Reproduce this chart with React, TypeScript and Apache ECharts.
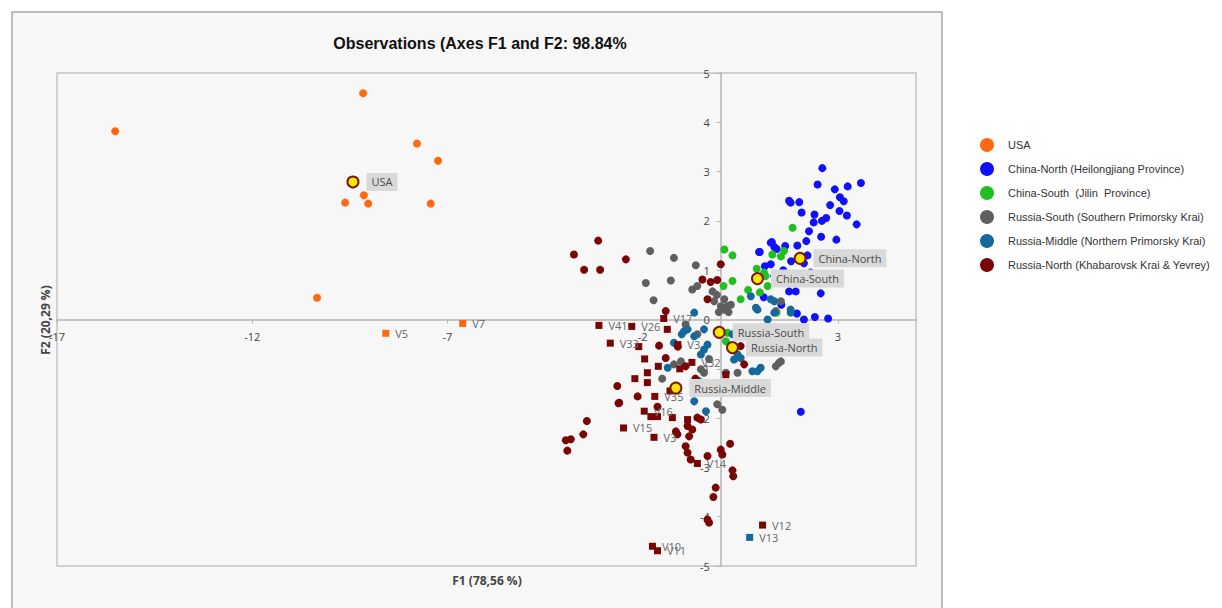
import React, { useEffect, useRef } from "react";
import * as echarts from "echarts";

const TITLE = "Observations (Axes F1 and F2: 98.84%";
const X_NAME = "F1 (78,56 %)";
const Y_NAME = "F2 (20,29 %)";
const X_MIN = -17;
const X_MAX = 5;
const X_STEP = 5;
const Y_MIN = -5;
const Y_MAX = 5;
const Y_STEP = 1;

const GROUP_NAMES = [
  "USA",
  "China-North (Heilongjiang Province)",
  "China-South  (Jilin  Province)",
  "Russia-South (Southern Primorsky Krai)",
  "Russia-Middle (Northern Primorsky Krai)",
  "Russia-North (Khabarovsk Krai & Yevrey)",
];

const USA_OBS = [
  [-15.51, 3.82], [-9.16, 4.59], [-7.78, 3.57], [-7.24, 3.22], [-9.14, 2.52],
  [-9.62, 2.37], [-9.03, 2.35], [-7.43, 2.35], [-10.34, 0.44],
];
const USA_VARS = [
  { name: "V5", value: [-8.58, -0.28] },
  { name: "V7", value: [-6.61, -0.08] },
];

const CHINA_NORTH_OBS = [
  [2.6, 3.07], [2.48, 2.74], [2.92, 2.64], [3.25, 2.7], [3.59, 2.77], [1.75, 2.41],
  [1.79, 2.37], [2.01, 2.38], [3.05, 2.48], [3.15, 2.4], [2.07, 2.17], [2.8, 2.32],
  [3.04, 2.2], [2.4, 2.13], [2.7, 2.06], [2.59, 2.0], [2.38, 1.97], [3.23, 2.11],
  [3.48, 1.93], [2.26, 1.79], [2.57, 1.68], [2.96, 1.62], [2.19, 1.59], [1.96, 1.5],
  [1.31, 1.57], [1.37, 1.47], [1.43, 1.43], [1.65, 1.49], [1.0, 1.37], [2.22, 1.3],
  [1.8, 1.18], [1.13, 1.08], [1.28, 1.12], [2.13, 1.14], [1.37, 0.88], [2.56, 0.53],
  [1.75, 0.57], [1.92, 0.57], [1.95, 0.12], [2.41, 0.05], [2.05, -1.87], [0.98, 1.37],
  [1.28, 1.56], [1.6, 1.0], [1.5, 0.75], [2.3, 0.95], [1.1, 0.45], [2.13, 0.0],
  [1.55, 0.3], [2.75, 0.02],
];

const CHINA_SOUTH_OBS = [
  [1.84, 1.86], [0.09, 1.42], [0.3, 1.3], [1.62, 1.39], [1.32, 1.32], [1.54, 1.28],
  [0.3, 0.78], [0.07, 0.68], [0.51, 0.41], [1.11, 0.95], [1.2, 0.68], [0.17, -0.27],
  [0.13, -0.44], [1.15, 0.88], [0.92, 1.03], [1.43, 0.14], [1.0, 0.55], [0.7, 0.6],
];

const RUSSIA_SOUTH_OBS = [
  [-1.81, 1.39], [-1.2, 1.25], [-0.64, 1.1], [-1.92, 0.74], [-1.28, 0.79], [-1.72, 0.39],
  [-0.73, 0.61], [-0.6, 0.68], [-0.21, 0.57], [-0.17, 0.37], [0.0, 0.27], [0.09, 0.2],
  [0.17, 0.27], [0.26, 0.3], [0.09, 0.41], [-0.1, 0.5], [0.2, 0.15], [-0.05, 0.15],
  [1.54, 0.37], [1.41, 0.17], [1.49, -0.88], [1.41, -0.95], [1.54, -0.85], [-1.02, -0.85],
  [-1.2, -0.91], [-0.09, -1.72], [0.04, -1.83], [-0.51, -1.01], [-0.43, -1.08], [-0.9, -0.1],
  [-0.6, -0.3], [0.13, -1.08], [0.43, -1.08], [-1.5, -1.2], [-0.3, -0.8],
];

const RUSSIA_MIDDLE_OBS = [
  [-0.68, 0.14], [-0.85, -0.2], [-0.94, -0.24], [-0.68, -0.34], [-0.43, -0.2], [-0.43, -0.61],
  [-0.51, -0.71], [0.43, -0.71], [0.51, -0.78], [0.34, -0.81], [1.02, -0.98], [0.94, -1.05],
  [-1.36, -0.98], [-1.2, -0.47], [-0.68, -1.66], [1.28, 0.41], [0.94, 0.2], [1.2, 0.0],
  [1.79, 0.2], [1.37, 0.37], [0.77, 0.47], [0.9, 0.24], [1.79, 0.14], [1.37, 0.14],
  [-0.56, -1.25], [-0.38, -1.86], [-0.34, -0.51], [0.81, -1.05], [-1.0, -0.3], [0.3, -0.3],
];
const RUSSIA_MIDDLE_VARS = [{ name: "V13", value: [0.74, -4.42] }];

const RUSSIA_NORTH_OBS = [
  [-3.14, 1.6], [-3.76, 1.32], [-2.43, 1.22], [-3.5, 1.01], [-3.09, 1.01], [0.0, 1.12],
  [-0.47, 0.81], [-0.26, 0.76], [-0.09, 0.8], [-0.34, 0.41], [-1.41, 0.17], [-1.58, -0.53],
  [-2.62, -1.7], [-3.43, -2.06], [-3.52, -2.33], [-3.97, -2.45], [-3.84, -2.43], [-3.93, -2.66],
  [-1.62, -1.77], [-1.15, -2.27], [-1.11, -2.33], [-0.9, -2.57], [-0.85, -2.7], [-0.77, -2.84],
  [-0.85, -2.16], [-0.73, -2.23], [-0.81, -2.37], [0.0, -2.64], [0.04, -2.74], [0.24, -2.52],
  [0.3, -3.06], [0.32, -3.18], [-0.13, -3.41], [-0.19, -3.6], [-0.34, -4.06], [-0.3, -4.12],
  [-0.6, -1.99], [-0.51, -2.03], [-1.41, -0.78], [-2.65, -1.35], [-2.13, -1.56], [-2.6, -1.69],
  [0.51, -0.54], [0.6, -0.91], [-1.1, -0.55], [-0.9, -0.95], [-0.65, -1.2], [-0.34, -2.77],
];
const RUSSIA_NORTH_VARS = [
  { name: "V41", value: [-3.12, -0.12] },
  { name: "V33", value: [-2.83, -0.48] },
  { name: "V26", value: [-2.28, -0.14] },
  { name: "V17", value: [-1.46, 0.02] },
  { name: "V3", value: [-1.1, -0.51] },
  { name: "V32", value: [-0.74, -0.87] },
  { name: "V35", value: [-1.69, -1.56] },
  { name: "V16", value: [-1.96, -1.86] },
  { name: "V15", value: [-2.49, -2.2] },
  { name: "V3", value: [-1.71, -2.39] },
  { name: "V14", value: [-0.6, -2.92] },
  { name: "V12", value: [1.07, -4.17] },
  { name: "V10", value: [-1.75, -4.6] },
  { name: "V11", value: [-1.62, -4.69] },
  { name: "", value: [-1.37, -0.2] },
  { name: "", value: [0.13, -1.12] },
  { name: "", value: [-1.79, -1.97] },
  { name: "", value: [-1.62, -1.97] },
  { name: "", value: [-1.24, -1.99] },
  { name: "", value: [-0.85, -2.03] },
  { name: "", value: [-1.88, -1.08] },
  { name: "", value: [-1.88, -1.28] },
  { name: "", value: [-2.1, -0.55] },
  { name: "", value: [-1.95, -0.8] },
  { name: "", value: [-1.6, -0.95] },
  { name: "", value: [-1.05, -1.0] },
  { name: "", value: [-2.2, -1.2] },
  { name: "", value: [-1.3, -1.45] },
];

const CENTROIDS = [
  { name: "USA", value: [-9.42, 2.79] },
  { name: "China-North", value: [2.03, 1.24] },
  { name: "China-South", value: [0.94, 0.83] },
  { name: "Russia-South", value: [-0.04, -0.26] },
  { name: "Russia-North", value: [0.3, -0.57] },
  { name: "Russia-Middle", value: [-1.15, -1.39] },
];

const GROUP_OBS = [USA_OBS, CHINA_NORTH_OBS, CHINA_SOUTH_OBS, RUSSIA_SOUTH_OBS, RUSSIA_MIDDLE_OBS, RUSSIA_NORTH_OBS];
const GROUP_VARS = [USA_VARS, [], [], [], RUSSIA_MIDDLE_VARS, RUSSIA_NORTH_VARS];
const COLORS = ["#ff6a10", "#1010ff", "#1fc01f", "#5f5f5f", "#15699a", "#7a0505"];

const FONT = "'Liberation Sans', Arial, sans-serif";
const LBL_FONT = "'Open Sans', sans-serif";

const GRID = { left: 57, top: 73, width: 859, height: 493 };

export default function App() {
  const ref = useRef<HTMLDivElement>(null);
  useEffect(() => {
    document.body.style.margin = "0";
    const chart = echarts.init(ref.current!, null, { renderer: "svg" });
    const series: any[] = [];
    GROUP_NAMES.forEach((g, i) => {
      series.push({
        name: g,
        type: "scatter",
        symbol: "circle",
        symbolSize: 8,
        itemStyle: { color: COLORS[i], opacity: 1 },
        data: GROUP_OBS[i],
        z: 2,
      });
    });
    GROUP_NAMES.forEach((g, i) => {
      if (!GROUP_VARS[i].length) return;
      series.push({
        name: g,
        type: "scatter",
        symbol: "rect",
        symbolSize: 7,
        itemStyle: { color: COLORS[i], opacity: 1 },
        label: {
          show: true,
          position: "right",
          distance: 6,
          formatter: "{b}",
          color: "#666",
          fontSize: 11,
          fontFamily: LBL_FONT,
        },
        labelLayout: { hideOverlap: false },
        data: GROUP_VARS[i],
        z: 3,
      });
    });
    series.push({
      name: "centroids",
      type: "scatter",
      symbol: "circle",
      symbolSize: 11,
      itemStyle: { color: "#ffe600", borderColor: "#7a1a00", borderWidth: 2, opacity: 1 },
      label: {
        show: true,
        position: "right",
        distance: 7,
        formatter: "{b}",
        color: "#4a4a4a",
        fontSize: 11,
        fontFamily: LBL_FONT,
        backgroundColor: "#d9d9d9",
        padding: [4, 5, 3, 5],
      },
      data: CENTROIDS,
      z: 5,
    });

    // place the axes through the origin, like the reference
    const xOffset = -GRID.height * ((0 - Y_MIN) / (Y_MAX - Y_MIN));
    const yOffset = -GRID.width * ((0 - X_MIN) / (X_MAX - X_MIN));

    chart.setOption({
      animation: false,
      backgroundColor: "#ffffff",
      title: {
        text: TITLE,
        left: 475,
        top: 30,
        textAlign: "center",
        textStyle: { fontFamily: FONT, fontSize: 16, fontWeight: "bold", color: "#111" },
      },
      legend: {
        orient: "vertical",
        left: 975,
        top: 133,
        itemWidth: 14,
        itemHeight: 14,
        itemGap: 10,
        icon: "circle",
        data: GROUP_NAMES,
        textStyle: { fontFamily: FONT, fontSize: 11, color: "#333", padding: [0, 0, 0, 9] },
      },
      grid: {
        ...GRID,
        show: true,
        borderColor: "#c4c4c4",
        borderWidth: 1.5,
        backgroundColor: "transparent",
      },
      xAxis: {
        type: "value",
        min: X_MIN,
        max: X_MAX,
        interval: X_STEP,
        position: "bottom",
        offset: xOffset,
        splitLine: { show: false },
        axisLine: { onZero: false, lineStyle: { color: "#b5b5b5", width: 1.5 } },
        axisTick: { show: true, length: 4, lineStyle: { color: "#b5b5b5" } },
        axisLabel: { color: "#444", fontSize: 11, fontFamily: LBL_FONT, showMaxLabel: false, margin: 11 },
      },
      yAxis: {
        type: "value",
        min: Y_MIN,
        max: Y_MAX,
        interval: Y_STEP,
        position: "left",
        offset: yOffset,
        splitLine: { show: false },
        axisLine: { onZero: false, lineStyle: { color: "#b5b5b5", width: 1.5 } },
        axisTick: { show: true, length: 4, lineStyle: { color: "#b5b5b5" } },
        axisLabel: { color: "#444", fontSize: 11, fontFamily: LBL_FONT, margin: 11 },
      },
      graphic: [
        {
          type: "rect",
          z: -10,
          silent: true,
          shape: { x: 12, y: 12, width: 930, height: 610 },
          style: { fill: "#f7f7f7", stroke: "#a8a8a8", lineWidth: 1.5 },
        },
        {
          type: "text",
          x: 487,
          y: 580,
          style: {
            text: X_NAME,
            fontFamily: LBL_FONT,
            fontSize: 12,
            fontWeight: "bold",
            fill: "#444",
            align: "center",
            verticalAlign: "middle",
          },
        },
        {
          type: "text",
          x: 45,
          y: 320,
          rotation: Math.PI / 2,
          style: {
            text: Y_NAME,
            fontFamily: LBL_FONT,
            fontSize: 12,
            fontWeight: "bold",
            fill: "#444",
            align: "center",
            verticalAlign: "middle",
          },
        },
      ],
      series,
    });
    return () => chart.dispose();
  }, []);
  return <div ref={ref} style={{ width: 1222, height: 608 }} />;
}
